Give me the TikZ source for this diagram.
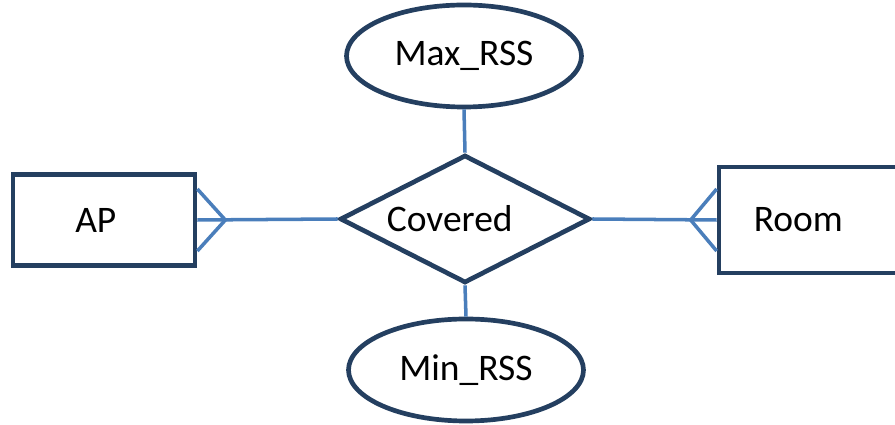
\documentclass[tikz,border=0pt]{standalone}
\usepackage{fontspec}
\setmainfont{Carlito}
\usetikzlibrary{shapes.geometric}
\usetikzlibrary{calc}

\definecolor{outline}{HTML}{243F60}
\definecolor{linkblue}{HTML}{4A7EBB}

\tikzset{
  entity/.style={draw=outline, line width=4pt, fill=white, rectangle,
    minimum width=54.6mm, minimum height=27.3mm, inner sep=0pt},
  relation/.style={draw=outline, line width=4pt, fill=white, diamond,
    minimum width=75mm, minimum height=38.4mm, inner sep=0pt},
  attrib/.style={draw=outline, line width=4pt, fill=white, ellipse,
    minimum width=70.5mm, minimum height=30.6mm, inner sep=0pt},
  link/.style={draw=linkblue, line width=3pt}
}

\begin{document}
\begin{tikzpicture}[x=0.3mm, y=-0.3mm, font=\fontsize{32}{38}\selectfont]

  \useasboundingbox (0, 0) rectangle (895, 425);

  % entities
  \node[entity] (ap) at (104, 220) {\hspace*{-14pt}AP};
  \node[entity, minimum height=31.8mm] (room) at (810, 220) {\hspace*{-20pt}Room};

  % relationship
  \node[relation] (cover) at (465, 219) {\hspace*{-26pt}Covered};

  % attributes
  \node[attrib] (maxrss) at (464, 56) {Max\_RSS};
  \node[attrib] (minrss) at (466, 370) {Min\_RSS};

  % many-side feet
  \coordinate (apfoot) at ($(ap.east)+(28,0)$);
  \coordinate (roomfoot) at ($(room.west)+(-26,0)$);

  \draw[link] (ap.east) -- (cover.west);
  \draw[link] (cover.east) -- (room.west);
  \draw[link] ($(ap.east)+(0,-31)$) -- (apfoot) -- ($(ap.east)+(0,31)$);
  \draw[link] ($(room.west)+(0,-31)$) -- (roomfoot) -- ($(room.west)+(0,31)$);
  \draw[link] (maxrss.south) -- (cover.north);
  \draw[link] (cover.south) -- (minrss.north);

\end{tikzpicture}
\end{document}
